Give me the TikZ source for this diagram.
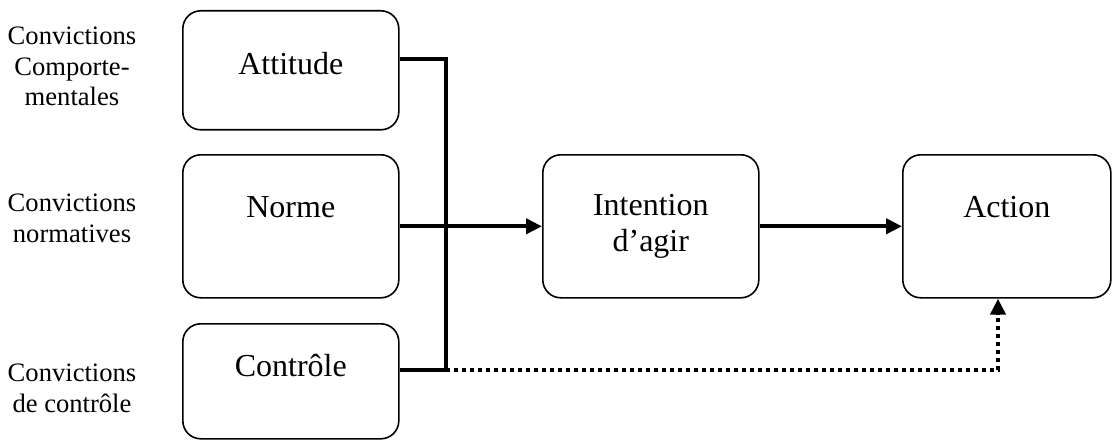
\documentclass[tikz,border=0pt]{standalone}
\usepackage{fontspec}
\setmainfont{Liberation Serif}
\usetikzlibrary{arrows.meta, positioning}

\begin{document}
\begin{tikzpicture}[x=1pt, y=-1pt,
  box/.style={draw, rectangle, rounded corners=18pt, line width=1.6pt,
    inner sep=0pt, minimum width=216pt, anchor=north west, align=center,
    font=\fontsize{32}{36}\selectfont},
  belief/.style={inner sep=0pt, align=center, font=\fontsize{26.6}{30.5}\selectfont},
  link/.style={line width=4pt},
  arr/.style={-{Triangle[length=16pt,width=15pt]}},
  dotlink/.style={line width=4pt, dash pattern=on 4pt off 4pt}]

  \useasboundingbox (0,0) rectangle (1113,441);

  \node[box, text height=64pt, text depth=55pt] (att) at (182,10) {Attitude};
  \node[box, text height=63pt, text depth=80pt] (nor) at (182,154) {Norme};
  \node[box, text height=53pt, text depth=62pt] (ctl) at (182,323) {Contrôle};
  \node[box, minimum height=143pt] (int) at (542,154) {Intention\\d’agir};
  \node[box, minimum width=208pt, text height=63pt, text depth=80pt] (act) at (902,154) {Action};

  \node[belief] (b1) at (72,66.5) {Convictions\\Comporte-\\mentales};
  \node[belief] (b2) at (72,218.5) {Convictions\\normatives};
  \node[belief] (b3) at (72,388.5) {Convictions\\de contrôle};

  \coordinate (top) at (446,59);
  \coordinate (bot) at (446,370);
  \coordinate (turn) at (998,370);

  \draw[link] (att.east |- top) -- (top) -- (bot) -- (ctl.east |- bot);
  \draw[link, arr] (nor.east) -- (int.west);
  \draw[link, arr] (int.east) -- (act.west);
  \draw[dotlink, arr] (bot) -- (turn) -- (turn |- act.south);
\end{tikzpicture}
\end{document}
